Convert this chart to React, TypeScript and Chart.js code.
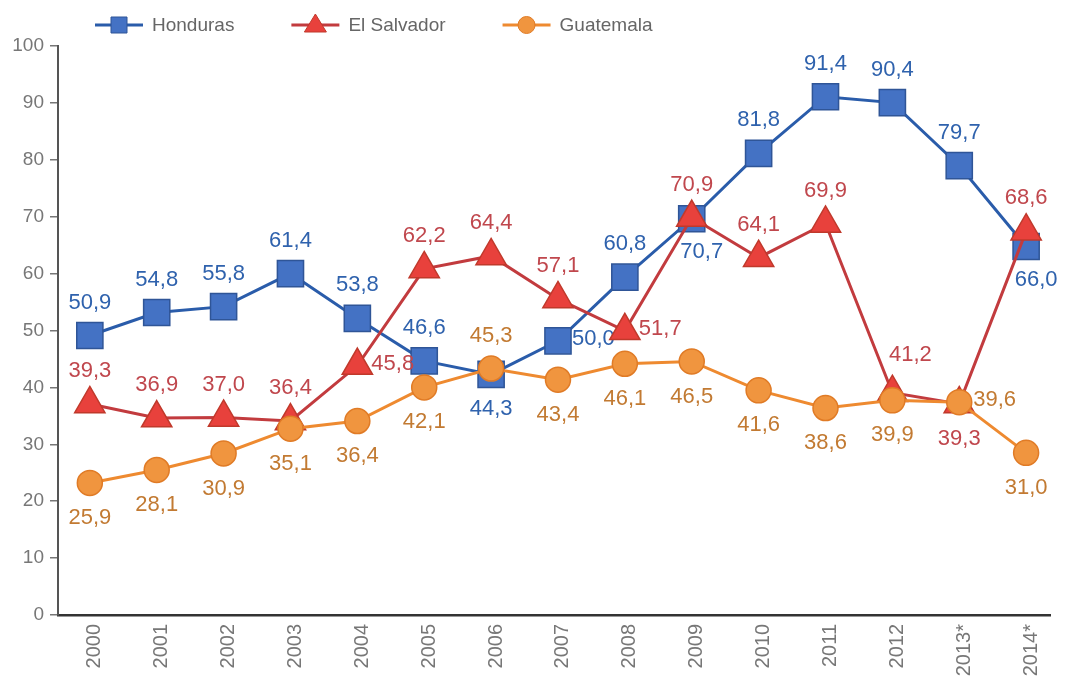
import React, { useEffect, useRef } from 'react';
import { Chart, registerables } from 'chart.js';

Chart.register(...registerables);

const categories = ['2000', '2001', '2002', '2003', '2004', '2005', '2006', '2007', '2008', '2009', '2010', '2011', '2012', '2013*', '2014*'];
const honduras = [50.9, 54.8, 55.8, 61.4, 53.8, 46.6, 44.3, 50.0, 60.8, 70.7, 81.8, 91.4, 90.4, 79.7, 66.0];
const elSalvador = [39.3, 36.9, 37.0, 36.4, 45.8, 62.2, 64.4, 57.1, 51.7, 70.9, 64.1, 69.9, 41.2, 39.3, 68.6];
const guatemala = [25.9, 28.1, 30.9, 35.1, 36.4, 42.1, 45.3, 43.4, 46.1, 46.5, 41.6, 38.6, 39.9, 39.6, 31.0];
const yTicks = [0, 10, 20, 30, 40, 50, 60, 70, 80, 90, 100];
const seriesNames = ['Honduras', 'El Salvador', 'Guatemala'];

// label placement (style only)
const hondurasLabelPos = ['top', 'top', 'top', 'top', 'top', 'top', 'bottom', 'right', 'top', 'bottomRight', 'top', 'top', 'top', 'top', 'bottomRight'];
const elSalvadorLabelPos = ['top', 'top', 'top', 'top', 'right', 'top', 'top', 'top', 'right', 'top', 'top', 'top', 'topRight', 'bottom', 'top'];
const guatemalaLabelPos = ['bottom', 'bottom', 'bottom', 'bottom', 'bottom', 'bottom', 'top', 'bottom', 'bottom', 'bottom', 'bottom', 'bottom', 'bottom', 'right', 'bottom'];

const FONT = '"Liberation Sans", Arial, Helvetica, sans-serif';

const styles = [
  { line: '#2a5caa', fill: '#4472c4', border: '#2f5597', label: '#2f62ad', shape: 'rect' },
  { line: '#c23b3e', fill: '#e8413c', border: '#c0392b', label: '#c0474d', shape: 'triangle' },
  { line: '#ee8a30', fill: '#f0953f', border: '#e07b26', label: '#c27a32', shape: 'circle' },
];
const labelPositions = [hondurasLabelPos, elSalvadorLabelPos, guatemalaLabelPos];
const seriesValues = [honduras, elSalvador, guatemala];

const fmt = (v: number) => v.toFixed(1).replace('.', ',');

const valueLabelPlugin = {
  id: 'valueLabels',
  afterDatasetDraw(chart: any, args: any) {
    const idx = args.index;
    const meta = args.meta;
    const ctx = chart.ctx;
    const vals = seriesValues[idx];
    const pos = labelPositions[idx];
    ctx.save();
    ctx.font = `22px ${FONT}`;
    ctx.fillStyle = styles[idx].label;
    ctx.textBaseline = 'middle';
    meta.data.forEach((pt: any, i: number) => {
      let x = pt.x;
      let y = pt.y;
      ctx.textAlign = 'center';
      const p = pos[i];
      if (p === 'top') y -= 33;
      else if (p === 'bottom') y += 35;
      else if (p === 'right') { x += 14; y -= 2; ctx.textAlign = 'left'; }
      else if (p === 'bottomRight') { x += 10; y += 33; }
      else if (p === 'topRight') { x += 18; y -= 38; }
      ctx.fillText(fmt(vals[i]), x, y);
    });
    ctx.restore();
  },
};

const legendPlugin = {
  id: 'customLegend',
  afterDraw(chart: any) {
    const ctx = chart.ctx;
    ctx.save();
    ctx.font = `19px ${FONT}`;
    ctx.textBaseline = 'middle';
    ctx.textAlign = 'left';
    let x = 95;
    const y = 25;
    seriesNames.forEach((name, i) => {
      const s = styles[i];
      ctx.strokeStyle = s.line;
      ctx.lineWidth = 3;
      ctx.beginPath();
      ctx.moveTo(x, y);
      ctx.lineTo(x + 48, y);
      ctx.stroke();
      const cx = x + 24;
      ctx.fillStyle = s.fill;
      ctx.strokeStyle = s.border;
      ctx.lineWidth = 1;
      ctx.beginPath();
      if (s.shape === 'rect') {
        ctx.rect(cx - 8, y - 8, 16, 16);
      } else if (s.shape === 'triangle') {
        ctx.moveTo(cx, y - 11);
        ctx.lineTo(cx + 11, y + 7);
        ctx.lineTo(cx - 11, y + 7);
        ctx.closePath();
      } else {
        ctx.arc(cx, y, 8.5, 0, Math.PI * 2);
      }
      ctx.fill();
      ctx.stroke();
      ctx.fillStyle = '#666';
      ctx.fillText(name, x + 57, y + 1);
      const w = ctx.measureText(name).width;
      x = x + 57 + w + 57;
    });
    ctx.restore();
  },
};

export default function App() {
  const canvasRef = useRef<HTMLCanvasElement | null>(null);

  useEffect(() => {
    document.body.style.margin = '0';
    const canvas = canvasRef.current;
    if (!canvas) return;

    const makeDataset = (idx: number, order: number) => {
      const s = styles[idx];
      return {
        label: seriesNames[idx],
        data: seriesValues[idx].map((v, i) => ({ x: i, y: v })),
        yAxisID: 'yData',
        borderColor: s.line,
        borderWidth: 3,
        backgroundColor: s.fill,
        pointStyle: s.shape,
        pointRadius: idx === 0 ? 18.5 : idx === 1 ? 17.5 : 12.5,
        pointBackgroundColor: s.fill,
        pointBorderColor: s.border,
        pointBorderWidth: 1.5,
        tension: 0,
        fill: false,
        order,
        clip: false,
      };
    };

    const chart = new Chart(canvas, {
      type: 'line',
      data: {
        datasets: [makeDataset(0, 3), makeDataset(1, 2), makeDataset(2, 1)] as any,
      },
      options: {
        animation: false,
        responsive: true,
        maintainAspectRatio: false,
        layout: { padding: { top: 46, right: 15, left: 0, bottom: 0 } },
        plugins: {
          legend: { display: false },
          tooltip: { enabled: false },
        },
        scales: {
          x: {
            type: 'linear',
            min: -0.476,
            max: 14.357,
            afterBuildTicks: (scale: any) => {
              scale.ticks = categories.map((_, i) => ({ value: i }));
            },
            afterFit: (scale: any) => {
              scale.height = 64;
            },
            grid: { display: true, drawOnChartArea: false, drawTicks: false },
            border: { display: true, color: '#333', width: 2.5 },
            ticks: {
              autoSkip: false,
              minRotation: 90,
              maxRotation: 90,
              padding: 9,
              labelOffset: 5,
              color: '#777',
              font: { family: FONT, size: 20 },
              callback: (v: any) => categories[Math.round(Number(v))] ?? '',
            },
          },
          y: {
            type: 'linear',
            position: 'left',
            min: 0,
            max: 100,
            afterBuildTicks: (scale: any) => {
              scale.ticks = yTicks.map((v) => ({ value: v }));
            },
            afterFit: (scale: any) => {
              scale.width = 58;
            },
            grid: { display: true, drawOnChartArea: false, drawTicks: true, tickLength: 8, color: '#777', lineWidth: 1.5 },
            border: { display: true, color: '#555', width: 2 },
            ticks: {
              padding: 6,
              color: '#777',
              font: { family: FONT, size: 19 },
            },
          },
          yData: {
            type: 'linear',
            display: false,
            min: 3.5,
            max: 100,
          },
        },
      } as any,
      plugins: [valueLabelPlugin, legendPlugin],
    });

    return () => {
      chart.destroy();
    };
  }, []);

  return (
    <div style={{ position: 'relative', width: '1070px', height: '679px', background: '#fff' }}>
      <canvas ref={canvasRef} />
    </div>
  );
}
